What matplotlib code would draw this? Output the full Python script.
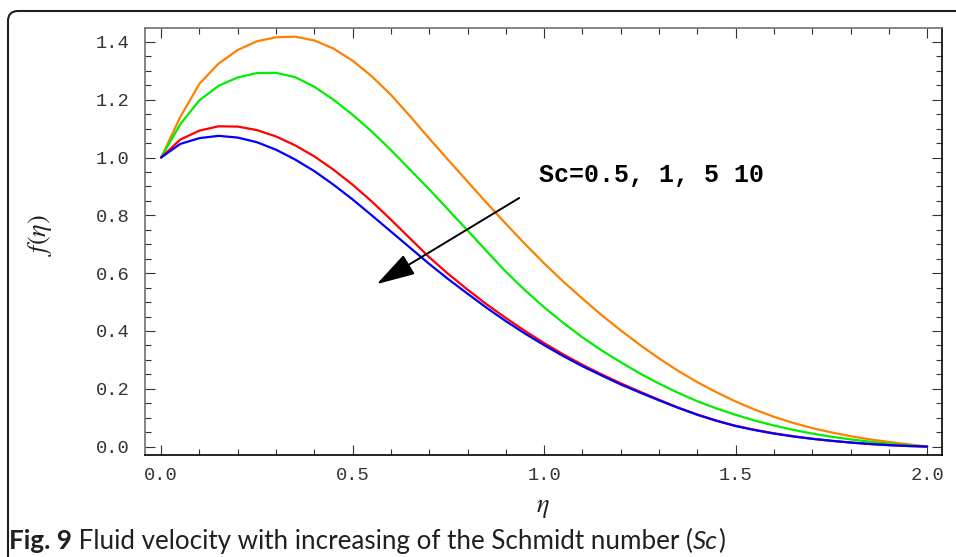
"""
Fluid velocity profile f(eta) for increasing Schmidt number (Fig. 9).
"""

import matplotlib
matplotlib.use("Agg")
import matplotlib.pyplot as plt
from matplotlib.patches import FancyBboxPatch, FancyArrowPatch
from matplotlib.ticker import MultipleLocator, FormatStrFormatter
from matplotlib.transforms import IdentityTransform

# eta grid the curves were read at (every 0.05)
ETA = [0.00, 0.05, 0.10, 0.15, 0.20, 0.25, 0.30, 0.35, 0.40, 0.45,
       0.50, 0.55, 0.60, 0.65, 0.70, 0.75, 0.80, 0.85, 0.90, 0.95,
       1.00, 1.05, 1.10, 1.15, 1.20, 1.25, 1.30, 1.35, 1.40, 1.45,
       1.50, 1.55, 1.60, 1.65, 1.70, 1.75, 1.80, 1.85, 1.90, 1.95, 2.00]

F_SC_05 = [1.000, 1.140, 1.255, 1.325, 1.372, 1.402, 1.416, 1.418, 1.405, 1.377,
           1.335, 1.281, 1.217, 1.143, 1.066, 0.991, 0.917, 0.843, 0.771, 0.701,
           0.634, 0.571, 0.512, 0.455, 0.402, 0.352, 0.305, 0.262, 0.223, 0.188,
           0.156, 0.128, 0.103, 0.082, 0.064, 0.049, 0.036, 0.025, 0.016, 0.008, 0.000]
F_SC_1 = [1.000, 1.115, 1.198, 1.248, 1.277, 1.292, 1.293, 1.278, 1.245, 1.200,
          1.148, 1.090, 1.026, 0.958, 0.890, 0.819, 0.748, 0.676, 0.605, 0.541,
          0.482, 0.428, 0.378, 0.333, 0.292, 0.253, 0.218, 0.186, 0.157, 0.132,
          0.110, 0.090, 0.073, 0.058, 0.045, 0.034, 0.025, 0.017, 0.010, 0.005, 0.000]
F_SC_5 = [1.000, 1.062, 1.093, 1.108, 1.107, 1.095, 1.073, 1.042, 1.004, 0.958,
          0.906, 0.848, 0.785, 0.720, 0.655, 0.597, 0.543, 0.492, 0.445, 0.400,
          0.358, 0.319, 0.283, 0.250, 0.219, 0.190, 0.162, 0.135, 0.111, 0.090,
          0.072, 0.058, 0.046, 0.036, 0.027, 0.020, 0.014, 0.009, 0.005, 0.002, 0.000]
F_SC_10 = [1.000, 1.047, 1.067, 1.075, 1.069, 1.053, 1.027, 0.993, 0.953, 0.906,
           0.855, 0.800, 0.744, 0.688, 0.632, 0.579, 0.529, 0.480, 0.434, 0.391,
           0.351, 0.313, 0.278, 0.246, 0.215, 0.187, 0.160, 0.134, 0.110, 0.089,
           0.071, 0.057, 0.045, 0.035, 0.027, 0.020, 0.014, 0.009, 0.005, 0.002, 0.000]

SERIES = [
    (F_SC_05, "#ff8000"),
    (F_SC_1, "#00ee00"),
    (F_SC_5, "#ff0000"),
    (F_SC_10, "#0000ff"),
]

MONO = "Liberation Mono"
INK = "#231f20"
CAPTION_WIDTH_PX = 712


def main() -> None:
    fig = plt.figure(figsize=(9.56, 5.57), dpi=100)
    ax = fig.add_axes([0.1517, 0.1837, 0.8337, 0.766])

    for values, color in SERIES:
        ax.plot(ETA, values, color=color, linewidth=1.6,
                solid_capstyle="round", solid_joinstyle="round")

    ax.set_xlim(-0.042, 2.039)
    ax.set_ylim(-0.028, 1.448)

    # Mathematica-ish frame: inward ticks on all four sides
    ax.xaxis.set_major_locator(MultipleLocator(0.5))
    ax.xaxis.set_minor_locator(MultipleLocator(0.1))
    ax.yaxis.set_major_locator(MultipleLocator(0.2))
    ax.yaxis.set_minor_locator(MultipleLocator(0.05))
    ax.xaxis.set_major_formatter(FormatStrFormatter("%.1f"))
    ax.yaxis.set_major_formatter(FormatStrFormatter("%.1f"))
    ax.tick_params(which="both", direction="in", top=True, right=True,
                   color="#333333", width=0.8)
    ax.tick_params(which="major", length=7)
    ax.tick_params(which="minor", length=4)
    ax.tick_params(axis="x", pad=9)
    ax.tick_params(axis="y", pad=11)
    for label in ax.get_xticklabels() + ax.get_yticklabels():
        label.set_fontfamily(MONO)
        label.set_fontsize(13.5)
        label.set_color("#333333")

    ax.spines["left"].set_color("#707070")
    ax.spines["top"].set_color("#707070")
    for side in ("left", "top", "right", "bottom"):
        ax.spines[side].set_linewidth(1.2)

    plt.rcParams["mathtext.fontset"] = "stix"
    fig.text(40 / 956, 1 - 235 / 557, r"$f(\eta)$", rotation=90,
             ha="center", va="center", fontsize=19, color=INK)
    fig.text(543 / 956, 1 - 507 / 557, r"$\eta$",
             ha="center", va="center", fontsize=19, color=INK)

    # the "increasing Sc" arrow and its label
    arrow = FancyArrowPatch((0.935, 0.860), (0.563, 0.562),
                            arrowstyle="-|>,head_length=1.2,head_width=0.35",
                            mutation_scale=20, linewidth=1.4, color="black",
                            shrinkA=0, shrinkB=0, zorder=5)
    ax.add_patch(arrow)
    ax.text(0.987, 0.941, "Sc=0.5, 1, 5 10", fontfamily=MONO, fontweight="bold",
            fontsize=18, ha="left", va="center", color="black")

    # rounded frame of the journal figure panel (runs off right/bottom)
    frame = FancyBboxPatch((8, -60), 1100, 557 - 11 + 60,
                           boxstyle="round,pad=0,rounding_size=10",
                           transform=IdentityTransform(), fill=False,
                           edgecolor=INK, linewidth=1.5, clip_on=False)
    fig.add_artist(frame)

    # caption: bold "Fig. 9", regular text, italic "Sc"
    pieces = [("Fig. 9", "bold", "normal"),
              (" Fluid velocity with increasing of the Schmidt number (", "normal", "normal"),
              ("Sc", "normal", "italic"),
              (")", "normal", "normal")]
    caption = [fig.text(0, 1 - 549 / 557, text, fontfamily="Lato", fontsize=12,
                        fontweight=weight, fontstyle=style, color=INK,
                        ha="left", va="baseline")
               for text, weight, style in pieces]
    fig.canvas.draw()
    renderer = fig.canvas.get_renderer()
    total = sum(t.get_window_extent(renderer).width for t in caption)
    size = 12 * CAPTION_WIDTH_PX / total
    x = 9 / 956
    for t in caption:
        t.set_fontsize(size)
        t.set_x(x)
        x = t.get_window_extent(renderer).x1 / fig.bbox.width

    fig.savefig("out.png", dpi=100)


if __name__ == "__main__":
    main()
